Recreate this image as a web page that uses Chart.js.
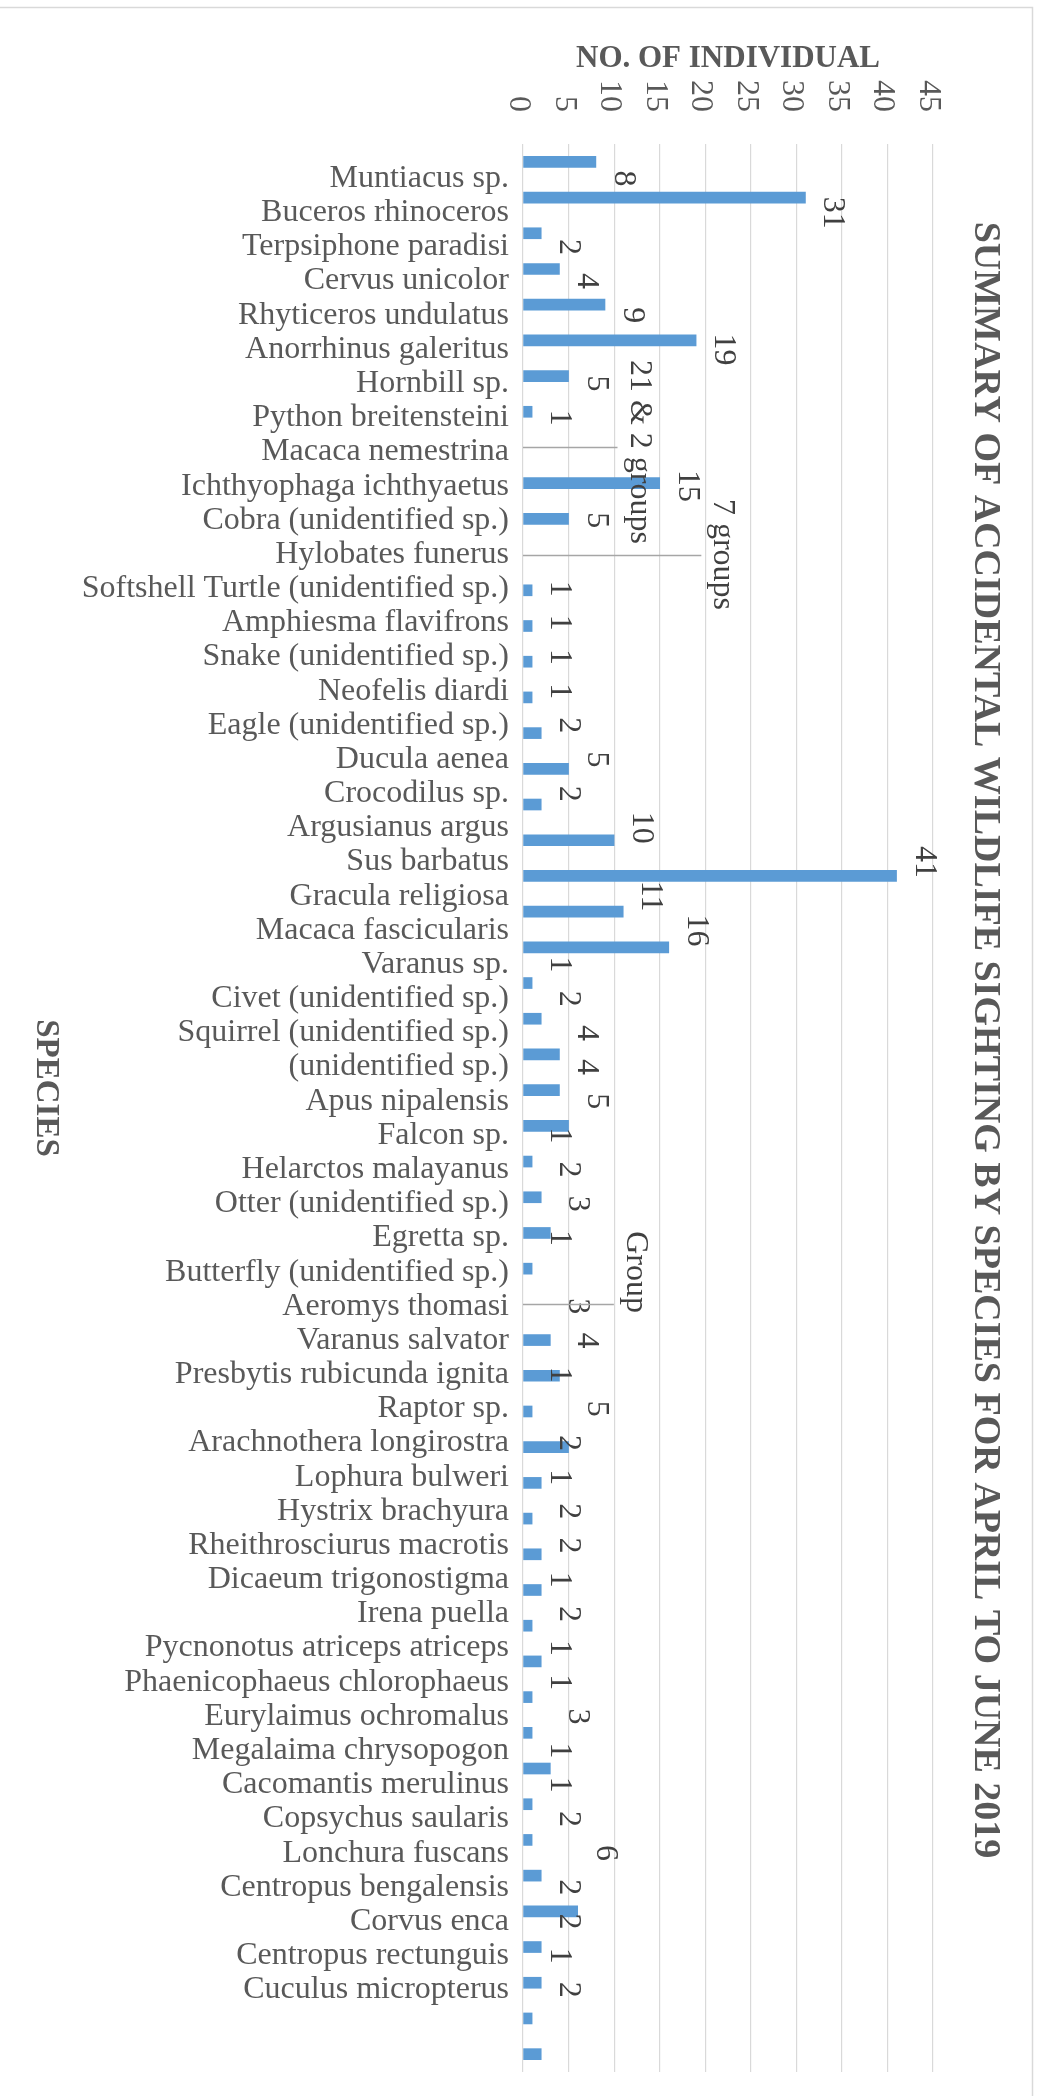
<!DOCTYPE html>
<html>
<head>
<meta charset="utf-8">
<title>Summary of accidental wildlife sighting by species, April to June 2019</title>
<script src="https://cdn.jsdelivr.net/npm/chart.js@4.4.0/dist/chart.umd.min.js"></script>
<style>
  html, body { margin: 0; padding: 0; background: #fff; }
  canvas { display: block; }
</style>
</head>
<body>
<canvas id="chart" width="1039" height="2096"></canvas>
<script>
const species = [
  'Muntiacus sp.', 'Buceros rhinoceros', 'Terpsiphone paradisi', 'Cervus unicolor',
  'Rhyticeros undulatus', 'Anorrhinus galeritus', 'Hornbill sp.', 'Python breitensteini',
  'Macaca nemestrina', 'Ichthyophaga ichthyaetus', 'Cobra (unidentified sp.)', 'Hylobates funerus',
  'Softshell Turtle (unidentified sp.)', 'Amphiesma flavifrons', 'Snake (unidentified sp.)',
  'Neofelis diardi', 'Eagle (unidentified sp.)', 'Ducula aenea', 'Crocodilus sp.',
  'Argusianus argus', 'Sus barbatus', 'Gracula religiosa', 'Macaca fascicularis', 'Varanus sp.',
  'Civet (unidentified sp.)', 'Squirrel (unidentified sp.)', '(unidentified sp.)', 'Apus nipalensis',
  'Falcon sp.', 'Helarctos malayanus', 'Otter (unidentified sp.)', 'Egretta sp.',
  'Butterfly (unidentified sp.)', 'Aeromys thomasi', 'Varanus salvator', 'Presbytis rubicunda ignita',
  'Raptor sp.', 'Arachnothera longirostra', 'Lophura bulweri', 'Hystrix brachyura',
  'Rheithrosciurus macrotis', 'Dicaeum trigonostigma', 'Irena puella', 'Pycnonotus atriceps atriceps',
  'Phaenicophaeus chlorophaeus', 'Eurylaimus ochromalus', 'Megalaima chrysopogon',
  'Cacomantis merulinus', 'Copsychus saularis', 'Lonchura fuscans', 'Centropus bengalensis',
  'Corvus enca', 'Centropus rectunguis', 'Cuculus micropterus'
];

const individuals = [
  8, 31, 2, 4, 9, 19, 5, 1, null, 15,
  5, null, 1, 1, 1, 1, 2, 5, 2, 10,
  41, 11, 16, 1, 2, 4, 4, 5, 1, 2,
  3, 1, null, 3, 4, 1, 5, 2, 1, 2,
  2, 1, 2, 1, 1, 3, 1, 1, 2, 6,
  2, 2, 1, 2
];

// entries counted in groups, written as text instead of a bar
const noteIndex = [8, 11, 32];
const noteText = ['21 & 2 groups', '7 groups', 'Group'];

const valueTicks = [0, 5, 10, 15, 20, 25, 30, 35, 40, 45];

const chartTitle = 'SUMMARY OF ACCIDENTAL WILDLIFE SIGHTING BY SPECIES FOR APRIL TO JUNE 2019';
const valueTitle = 'NO. OF INDIVIDUAL';
const categoryTitle = 'SPECIES';

// where the moved note labels were dragged to (axis units)
const notePlace = [11.8, 21, 11.4];

const serif = '"Liberation Serif", "Times New Roman", serif';
const grey = '#595959';

// in the source the names drift slightly from the bars, so they get their own axis
const plotTop = 144;
const plotBottom = 2072;
const labelTop = 161;
const labelStep = 34.82;

// write text turned a quarter clockwise, baseline at x
const turned = (ctx, text, x, y, align) => {
  ctx.save();
  ctx.translate(x, y);
  ctx.rotate(Math.PI / 2);
  ctx.textAlign = align;
  ctx.textBaseline = 'alphabetic';
  ctx.fillText(text, 0, 0);
  ctx.restore();
};

const frame = {
  id: 'frame',
  beforeDraw(chart) {
    const { ctx } = chart;
    ctx.save();
    ctx.fillStyle = '#fff';
    ctx.fillRect(0, 0, chart.width, chart.height);
    ctx.strokeStyle = '#d9d9d9';
    ctx.lineWidth = 1.5;
    ctx.beginPath();
    ctx.moveTo(0, 7.5);
    ctx.lineTo(1032.5, 7.5);
    ctx.lineTo(1032.5, chart.height);
    ctx.stroke();
    ctx.restore();
  }
};

const texts = {
  id: 'texts',
  afterDraw(chart) {
    const { ctx, scales } = chart;
    const x = scales.x;
    const yBar = scales.y;
    const yName = scales.yl;
    ctx.save();

    ctx.fillStyle = grey;
    ctx.font = `bold 31px ${serif}`;
    ctx.textAlign = 'center';
    ctx.textBaseline = 'alphabetic';
    ctx.fillText(valueTitle, (x.left + x.right) / 2, 67);

    ctx.font = `32px ${serif}`;
    valueTicks.forEach((v) => {
      turned(ctx, String(v), x.getPixelForValue(v) - 13, 112, 'right');
    });

    ctx.fillStyle = '#404040';
    individuals.forEach((v, i) => {
      if (v == null) return;
      turned(ctx, String(v), x.getPixelForValue(v) + 19, yName.getPixelForValue(i), 'center');
    });

    noteIndex.forEach((i, k) => {
      const nx = x.getPixelForValue(notePlace[k]);
      const by = Math.round(yBar.getPixelForValue(i)) + 0.5;
      ctx.strokeStyle = '#a6a6a6';
      ctx.lineWidth = 1.5;
      ctx.beginPath();
      ctx.moveTo(x.getPixelForValue(0), by);
      ctx.lineTo(nx - 13, by);
      ctx.stroke();
      turned(ctx, noteText[k], nx, yName.getPixelForValue(i), 'center');
    });

    ctx.fillStyle = grey;
    ctx.font = `bold 38px ${serif}`;
    turned(ctx, chartTitle, 975, 1040, 'center');
    ctx.font = `bold 33px ${serif}`;
    turned(ctx, categoryTitle, 37, 1088, 'center');

    ctx.restore();
  }
};

new Chart(document.getElementById('chart'), {
  type: 'bar',
  data: {
    labels: species,
    datasets: [{
      label: 'No. of individual',
      data: individuals,
      backgroundColor: '#5b9bd5',
      barThickness: 11,
      xAxisID: 'x',
      yAxisID: 'y'
    }]
  },
  options: {
    indexAxis: 'y',
    responsive: false,
    animation: false,
    layout: { padding: { top: plotTop, right: 106, bottom: 2096 - plotBottom, left: 0 } },
    plugins: {
      legend: { display: false },
      tooltip: { enabled: false }
    },
    scales: {
      x: {
        type: 'linear',
        position: 'top',
        min: 0,
        max: 45,
        ticks: { display: false, stepSize: 5 },
        grid: { color: '#d9d9d9', lineWidth: 1.2, drawTicks: false },
        border: { display: false }
      },
      y: {
        type: 'category',
        display: false,
        offset: true
      },
      yl: {
        type: 'linear',
        axis: 'y',
        position: 'left',
        reverse: true,
        min: -(labelTop - plotTop) / labelStep,
        max: (plotBottom - labelTop) / labelStep,
        afterBuildTicks: (s) => { s.ticks = species.map((_, i) => ({ value: i })); },
        afterFit: (s) => { s.width = 523; s.paddingTop = 0; s.paddingBottom = 0; },
        ticks: {
          autoSkip: false,
          padding: 14,
          color: grey,
          font: { family: serif, size: 32 },
          callback: (v) => species[v]
        },
        grid: { display: false, drawTicks: false },
        border: { display: false }
      }
    }
  },
  plugins: [frame, texts]
});
</script>
</body>
</html>
